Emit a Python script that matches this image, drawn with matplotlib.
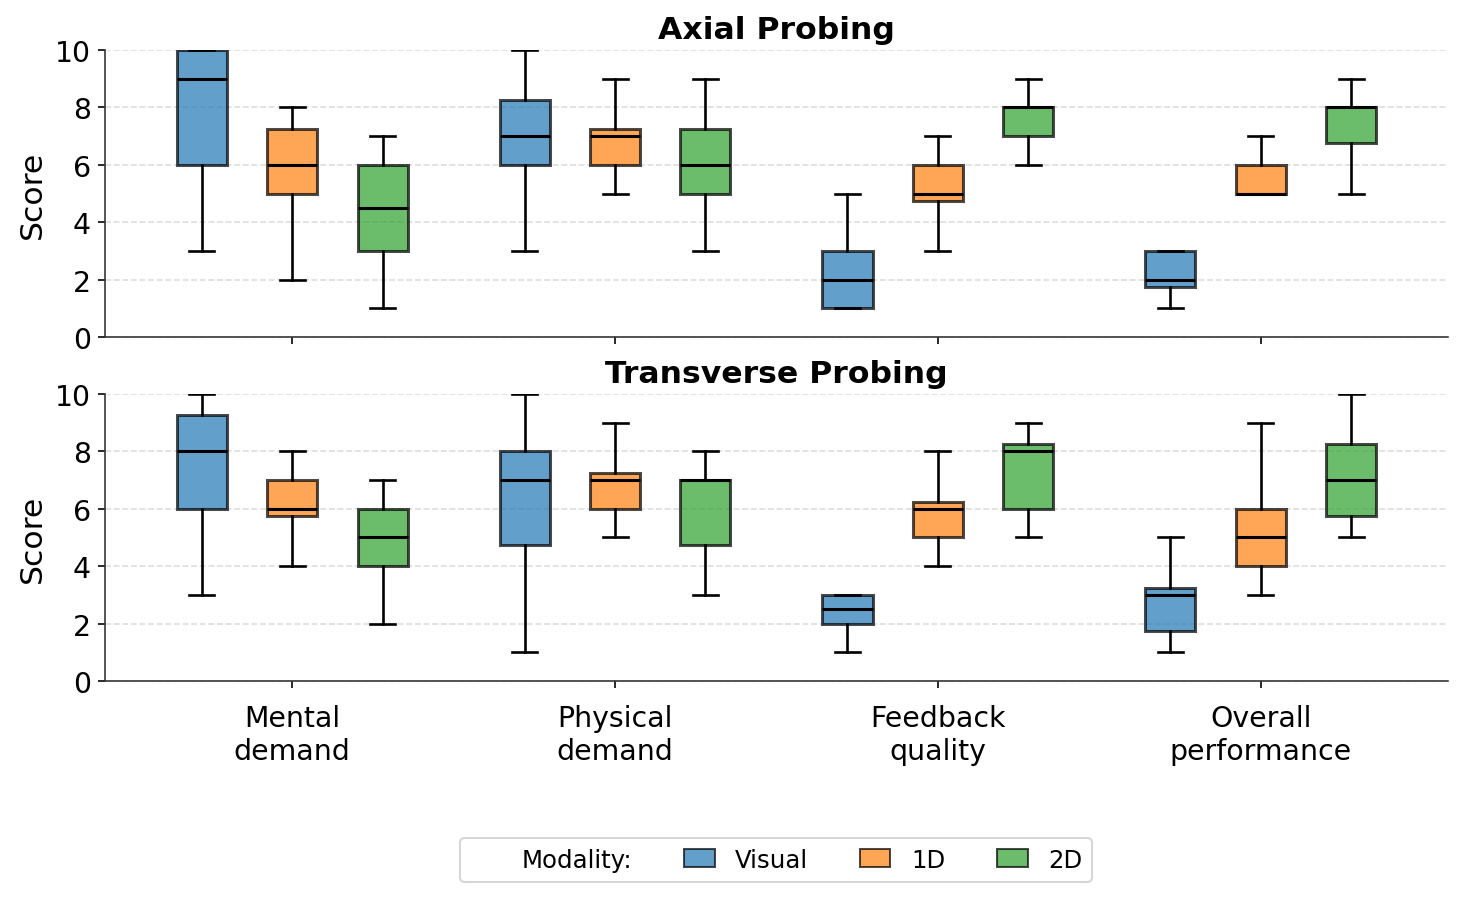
import numpy as np
import matplotlib.pyplot as plt
from matplotlib.patches import Patch

categories = ["Mental\ndemand", "Physical\ndemand", "Feedback\nquality", "Overall\nperformance"]
modalities = ["Visual", "1D", "2D"]
colors = ["#1f77b4", "#ff7f0e", "#2ca02c"]

# (whislo, q1, med, q3, whishi) per category, per modality
axial = {
    "Visual": [(3, 6, 9, 10, 10), (3, 6, 7, 8.25, 10), (1, 1, 2, 3, 5), (1, 1.75, 2, 3, 3)],
    "1D":     [(2, 5, 6, 7.25, 8), (5, 6, 7, 7.25, 9), (3, 4.75, 5, 6, 7), (5, 5, 5, 6, 7)],
    "2D":     [(1, 3, 4.5, 6, 7), (3, 5, 6, 7.25, 9), (6, 7, 8, 8, 9), (5, 6.75, 8, 8, 9)],
}
transverse = {
    "Visual": [(3, 6, 8, 9.25, 10), (1, 4.75, 7, 8, 10), (1, 2, 2.5, 3, 3), (1, 1.75, 3, 3.25, 5)],
    "1D":     [(4, 5.75, 6, 7, 8), (5, 6, 7, 7.25, 9), (4, 5, 6, 6.25, 8), (3, 4, 5, 6, 9)],
    "2D":     [(2, 4, 5, 6, 7), (3, 4.75, 7, 7, 8), (5, 6, 8, 8.25, 9), (5, 5.75, 7, 8.25, 10)],
}
panels = [("Axial Probing", axial), ("Transverse Probing", transverse)]

fig, axes = plt.subplots(2, 1, figsize=(10, 6.231), dpi=146.2, sharex=True)
fig.subplots_adjust(left=0.0718, right=0.9904, top=0.944, bottom=0.2514, hspace=0.198)

x = np.arange(len(categories))
offsets = [-0.28, 0, 0.28]
width = 0.155

for ax, (title, data) in zip(axes, panels):
    for m, (mod, col) in enumerate(zip(modalities, colors)):
        stats = []
        for vals in data[mod]:
            lo, q1, med, q3, hi = vals
            stats.append(dict(whislo=lo, q1=q1, med=med, q3=q3, whishi=hi, fliers=[]))
        bp = ax.bxp(stats, positions=x + offsets[m], widths=width, patch_artist=True,
                    showfliers=False, manage_ticks=False,
                    boxprops=dict(linewidth=1.5),
                    medianprops=dict(color="black", linewidth=1.5),
                    whiskerprops=dict(color="black", linewidth=1.3),
                    capprops=dict(color="black", linewidth=1.3))
        for b in bp["boxes"]:
            b.set_facecolor(col)
            b.set_edgecolor("black")
            b.set_alpha(0.7)
    ax.set_ylim(0, 10)
    ax.set_yticks([0, 2, 4, 6, 8, 10])
    ax.set_xlim(-0.58, 3.58)
    ax.set_title(title, fontsize=15.5, fontweight="bold")
    ax.set_ylabel("Score", fontsize=15.5)
    ax.tick_params(labelsize=14)
    ax.grid(axis="y", linestyle="--", color="#dddddd", linewidth=0.8)
    ax.set_axisbelow(True)
    ax.spines["top"].set_visible(False)
    ax.spines["right"].set_visible(False)
    for s in ["left", "bottom"]:
        ax.spines[s].set_color("#333333")

axes[1].set_xticks(x)
axes[1].set_xticklabels(categories, fontsize=14)
axes[1].tick_params(axis="x", pad=8)

handles = [Patch(facecolor="none", edgecolor="none")]
handles += [Patch(facecolor=c, edgecolor="black", alpha=0.7) for c in colors]
labels = ["Modality:"] + modalities
fig.legend(handles, labels, loc="center", bbox_to_anchor=(0.531, 0.055), ncol=4,
           fontsize=12, frameon=True, columnspacing=2.1, handlelength=1.27,
           handleheight=0.77, handletextpad=0.85)

fig.savefig("out.png", dpi=146.2)
